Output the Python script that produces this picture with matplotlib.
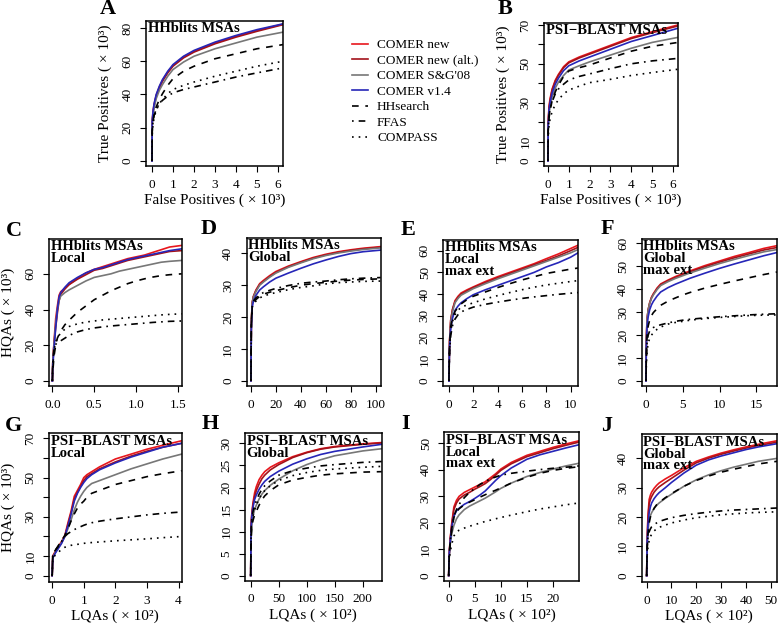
import matplotlib
matplotlib.use("Agg")
import matplotlib.pyplot as plt
from matplotlib.lines import Line2D

plt.rcParams['font.family'] = ['Liberation Serif', 'DejaVu Serif']

names = ['COMER new', 'COMER new (alt.)', "COMER S&G'08", 'COMER v1.4', 'HHsearch', 'FFAS', 'COMPASS']

# A: HHblits, TP vs FP (x10^3)
a_x = [0, 0.01, 0.05, 0.1, 0.2, 0.35, 0.5, 0.75, 1, 1.5, 2, 3, 4, 5, 6.24]
a_new = [0, 24, 30, 34, 39.5, 44.5, 48.5, 53.5, 57.5, 62.5, 66, 71, 75, 78.5, 82.3]
a_alt = [0, 23, 29, 33, 39, 44, 48, 53, 57, 62, 65.5, 70.5, 74.5, 78, 82]
a_sg = [0, 22, 28, 32, 37.5, 42.5, 46, 51, 55, 59.5, 63, 67.5, 71, 74.5, 77.5]
a_v14 = [0, 24, 30, 34.5, 40, 45, 49, 54, 58, 63, 66.5, 71.5, 75.5, 79, 82.5]
a_hhs = [0, 18, 24, 28, 32.5, 37, 40.5, 45.5, 49.5, 54, 57, 61.5, 64.5, 67.5, 70]
a_ffas = [0, 18, 24, 27.5, 31, 34.5, 36.5, 39, 41, 43, 44.5, 47.5, 50.5, 53, 56]
a_compass = [0, 16, 22, 26, 30.5, 34.5, 37, 40.5, 43, 45.5, 47.5, 51, 54, 57, 60]

# B: PSI-BLAST, TP vs FP
b_x = [0, 0.01, 0.05, 0.1, 0.2, 0.35, 0.5, 0.75, 1, 1.5, 2, 3, 4, 5, 6.24]
b_new = [0, 20, 28, 32, 37, 41.5, 44.5, 48.5, 51, 53.5, 55.5, 59.5, 63.5, 66.5, 70]
b_alt = [0, 19, 27, 31, 36.5, 41, 44, 48, 50.5, 53, 55, 59, 63, 66, 69.5]
b_sg = [0, 17, 24, 28, 33, 37.5, 40.5, 44, 46.8, 49, 51, 54.5, 58, 61, 63.6]
b_v14 = [0, 18, 26, 30, 35, 39.5, 42.5, 46.5, 49, 51.5, 53.5, 57.5, 61.5, 64.5, 68.3]
b_hhs = [0, 15, 22, 26, 31, 35.5, 39, 43.5, 46.3, 48, 49.4, 53, 56.5, 59, 61]
b_ffas = [0, 16, 23, 26.5, 30.5, 34.5, 37, 39.5, 41.7, 43.5, 44.8, 47.5, 50, 51.5, 52.8]
b_compass = [0, 12, 18, 21.5, 25.5, 29, 31.5, 34.5, 36.5, 38.5, 40.3, 42, 44, 45.5, 47.2]

# C: HHblits local, HQAs vs LQAs
c_x = [0, 0.005, 0.02, 0.04, 0.06, 0.08, 0.1, 0.15, 0.2, 0.3, 0.4, 0.5, 0.6, 0.7, 0.8, 0.9, 1.0, 1.1, 1.2, 1.3, 1.4, 1.545]
c_new = [0, 10, 22, 35, 42, 48, 50, 52, 54, 57.5, 60.5, 62.5, 64, 65.5, 67, 68.5, 69.5, 70.5, 72, 73.5, 75, 75.9]
c_alt = [0, 10, 21, 30, 38, 45, 48.5, 51.5, 54, 57, 59.5, 62, 63, 64.5, 66, 67.5, 68.5, 69.5, 70.5, 71.5, 72.5, 73]
c_sg = [0, 10, 21, 32, 40, 45, 47.5, 49.5, 51, 53.5, 56, 58, 59, 60, 61.5, 62.5, 63.5, 64.5, 65.5, 66.5, 67, 67.5]
c_v14 = [0, 8, 18, 30, 40, 47, 49.5, 52.5, 55, 58, 60.5, 62.5, 63.5, 65, 66.5, 68, 69, 70, 71, 72, 73, 74]
c_hhs = [0, 5, 14, 20, 24, 26, 28, 31.5, 34, 38.5, 42, 45.5, 48, 50.5, 52.5, 54.5, 56, 57.2, 58.2, 59, 59.5, 60]
c_ffas = [0, 10, 18, 20.5, 21.5, 22, 22.5, 24, 25.5, 27.5, 28.8, 29.7, 30.3, 30.8, 31.2, 31.6, 32, 32.4, 32.8, 33.1, 33.4, 33.6]
c_compass = [0, 8, 17, 22, 24, 25.5, 27, 29, 30.5, 32, 33, 33.6, 34.2, 34.6, 35, 35.4, 35.8, 36.2, 36.6, 37, 37.3, 37.6]

# D: HHblits global
d_x = [0, 0.3, 1, 2, 4, 7, 10, 15, 20, 30, 40, 50, 60, 70, 80, 90, 104]
d_new = [0, 18, 24.5, 26.5, 28.5, 30.5, 31.5, 33, 34.3, 36, 37.4, 38.7, 39.7, 40.5, 41.1, 41.6, 42.1]
d_alt = [0, 18, 24.5, 26.5, 28.3, 30.2, 31.2, 32.7, 34, 35.8, 37.2, 38.5, 39.5, 40.3, 40.9, 41.4, 41.9]
d_sg = [0, 18, 24.3, 26.3, 28, 30, 31, 32.5, 33.8, 35.6, 37, 38.3, 39.3, 40.1, 40.7, 41.2, 41.7]
d_v14 = [0, 16, 23, 25, 26.8, 28.5, 29.5, 31, 32.2, 33.8, 35.3, 36.7, 37.9, 39, 39.9, 40.5, 41]
d_hhs = [0, 17, 23, 24.5, 25.5, 26.5, 27.2, 27.8, 28.3, 29.2, 30, 30.5, 30.9, 31.3, 31.6, 31.8, 32]
d_ffas = [0, 18, 23.5, 25, 26, 27, 27.7, 28.4, 29, 29.9, 30.6, 31, 31.3, 31.7, 32, 32.2, 32.4]
d_compass = [0, 17, 23, 24.3, 25, 26, 26.6, 27.2, 27.7, 28.6, 29.3, 29.8, 30.4, 30.8, 31, 31.2, 31.3]

# E: HHblits local max ext
e_x = [0, 0.05, 0.15, 0.3, 0.5, 0.75, 1, 1.5, 2, 3, 4, 5, 6, 7, 8, 9, 10, 10.6]
e_new = [0, 18, 28, 33, 37, 39, 40.5, 42, 43.3, 45.8, 48, 50, 52, 54, 56.3, 58.5, 61, 62.5]
e_alt = [0, 18, 28, 33, 36.5, 38.5, 40, 41.5, 43, 45.3, 47.5, 49.5, 51.5, 53.5, 55.5, 57.6, 60, 61.5]
e_sg = [0, 17, 27, 32, 36, 38, 39.5, 41, 42.5, 44.8, 47, 49, 51, 53, 55, 57, 59, 60.5]
e_v14 = [0, 15, 24, 29, 32.5, 34.5, 36, 38, 39.7, 42, 44, 46, 48, 50, 52.5, 54.5, 57, 59]
e_hhs = [0, 15, 25, 29, 32, 34, 35.5, 37.5, 39, 41, 43, 44.8, 46.5, 48, 49.5, 50.5, 51.5, 52]
e_ffas = [0, 13, 21, 25.5, 28.5, 30.5, 31.8, 33, 34, 35.3, 36.3, 37.2, 38, 38.7, 39.3, 39.9, 40.4, 40.7]
e_compass = [0, 14, 23, 27.5, 30.5, 32.5, 34, 35, 36, 37.8, 39.3, 40.7, 42, 43.2, 44.2, 45, 45.8, 46.2]

# F: HHblits global max ext
f_x = [0, 0.05, 0.15, 0.3, 0.5, 0.75, 1, 1.5, 2, 3, 4, 5, 6, 8, 10, 12, 14, 16, 17.8]
f_new = [0, 18, 27, 31, 34, 36.5, 38, 40.5, 42.3, 44, 45.5, 46.8, 48, 50.3, 52.3, 54.3, 56, 57.8, 59]
f_alt = [0, 18, 27, 31, 34, 36.3, 37.8, 40.2, 42, 43.7, 45.1, 46.4, 47.6, 49.8, 51.8, 53.7, 55.4, 57.1, 58.2]
f_sg = [0, 18, 27, 31, 33.8, 36, 37.5, 39.8, 41.6, 43.3, 44.7, 45.9, 47.1, 49.2, 51.2, 53, 54.7, 56.3, 57.3]
f_v14 = [0, 15, 24, 28, 31, 33.2, 34.7, 37, 38.8, 40.7, 42.2, 43.5, 44.8, 47, 49.1, 51, 52.8, 54.6, 56]
f_hhs = [0, 12, 20, 24, 26.5, 28.5, 29.8, 31.5, 33, 34.8, 36.2, 37.5, 38.6, 40.5, 42.1, 43.6, 45, 46.4, 47.5]
f_ffas = [0, 10, 17, 20, 21.8, 22.8, 23.3, 24, 24.5, 25.3, 26, 26.5, 26.9, 27.5, 28, 28.4, 28.8, 29.1, 29.3]
f_compass = [0, 7, 13, 16.5, 18.5, 20, 21, 22.5, 23.5, 24.8, 25.5, 26, 26.5, 27.2, 27.7, 28.1, 28.5, 28.7, 28.8]

# G: PSI-BLAST local
g_x = [0, 0.02, 0.1, 0.2, 0.3, 0.4, 0.5, 0.6, 0.7, 0.8, 0.9, 1.0, 1.1, 1.25, 1.5, 2, 2.5, 3, 3.5, 4.1]
g_new = [0, 10, 12.5, 15, 17.5, 20.5, 27, 33, 40.5, 43.5, 46.5, 50, 51.5, 53, 55.5, 59.5, 62, 64.5, 66.5, 68.8]
g_alt = [0, 10, 12, 14.5, 17, 20, 26, 32, 39, 42.5, 45.5, 48.5, 50.5, 52, 54.5, 58, 61, 63.5, 65.5, 67.5]
g_sg = [0, 9, 12, 14.5, 17, 20, 24, 28.5, 33.5, 37.5, 40.5, 43, 45, 47, 48.5, 51.5, 54.5, 57, 59.5, 62]
g_v14 = [0, 9, 11.5, 14, 16.5, 20, 25.5, 31.5, 38, 42, 45, 47.5, 49.5, 51.5, 54, 57.5, 60.5, 63, 65.5, 67.5]
g_hhs = [0, 10, 13, 15.5, 18, 20.5, 24, 28, 31.5, 34.5, 36.5, 38, 40, 42, 43.5, 46.5, 48.5, 50.5, 52, 53.5]
g_ffas = [0, 11, 13, 15, 17.5, 20, 21.5, 22.5, 23.5, 24.3, 25, 25.7, 26.3, 27, 27.8, 29, 30, 31, 31.8, 32.5]
g_compass = [0, 9, 10.5, 12, 13.5, 14.5, 15, 15.5, 15.8, 16, 16.2, 16.5, 16.7, 16.9, 17.2, 17.8, 18.3, 18.8, 19.4, 20]

# H: PSI-BLAST global
h_x = [0, 0.5, 1, 2, 4, 7, 10, 15, 20, 25, 35, 50, 75, 100, 125, 150, 200, 234]
h_new = [0, 9, 12, 14, 16.5, 18.8, 20.2, 21.8, 22.8, 23.6, 24.6, 25.6, 27, 28, 28.8, 29.3, 29.9, 30.2]
h_alt = [0, 9, 12, 14, 16, 18, 19.3, 20.8, 22, 22.8, 24, 25.2, 26.8, 27.9, 28.7, 29.2, 29.8, 30.1]
h_sg = [0, 7, 9.5, 11.5, 13.5, 15, 16, 17.4, 18.5, 19.3, 20.5, 21.9, 23.8, 25.2, 26.3, 27.2, 28.3, 28.8]
h_v14 = [0, 9, 11.5, 13.5, 15.5, 17.3, 18.3, 19.6, 20.6, 21.4, 22.5, 23.7, 25.3, 26.5, 27.5, 28.2, 29.2, 29.8]
h_hhs = [0, 6, 9, 11, 12.5, 13.8, 14.6, 16, 17.2, 18.1, 19.3, 20.6, 21.7, 22.3, 22.8, 23.1, 23.5, 23.6]
h_ffas = [0, 8, 11, 13, 14.5, 16, 17, 18.5, 19.6, 20.4, 21.5, 22.8, 23.8, 24.4, 24.9, 25.2, 25.7, 25.9]
h_compass = [0, 7, 10, 12, 13.5, 15, 16, 17.5, 18.5, 19.3, 20.4, 21.6, 22.7, 23.4, 23.9, 24.2, 24.6, 24.8]

# I: PSI-BLAST local max ext
i_x = [0, 0.1, 0.3, 0.6, 1, 1.5, 2, 3, 4, 5, 6, 7, 8, 9, 10, 12, 15, 17.5, 20, 22.5, 25]
i_new = [0, 8, 14, 20, 26, 28.5, 30, 31.5, 32.5, 33.5, 34.5, 35.5, 37, 38.5, 40.3, 42.8, 45.5, 47, 48.5, 49.8, 51]
i_alt = [0, 8, 14, 19.5, 25, 27.5, 29, 30.5, 31.5, 32.7, 33.7, 34.8, 36.3, 38, 39.8, 42.3, 45, 46.5, 48, 49.3, 50.5]
i_sg = [0, 7, 12, 16, 19, 21.5, 23, 25, 26.3, 27.3, 28.3, 29.3, 30.5, 31.7, 33, 35, 37.5, 39, 40.3, 41.5, 42.5]
i_v14 = [0, 8, 13, 18.5, 22.5, 24.5, 25.5, 27, 28, 29.2, 30.5, 32, 34, 36, 37.8, 40.7, 44, 45.7, 47, 48.3, 49.5]
i_hhs = [0, 7, 12.5, 17.5, 22, 24, 25.3, 26.8, 27.8, 28.7, 29.7, 30.6, 31.5, 32.3, 33.2, 35, 37.2, 38.7, 39.8, 40.6, 41.2]
i_ffas = [0, 8, 13, 18, 22.5, 25, 27, 29.5, 31.5, 33, 34.5, 35.6, 36.6, 37.3, 38, 38.7, 39.5, 40.1, 40.6, 41, 41.5]
i_compass = [0, 6, 9, 12, 15, 16.5, 17.2, 18, 18.7, 19.3, 19.9, 20.5, 21, 21.5, 22, 22.9, 24.2, 25.2, 26, 26.8, 27.5]

# J: PSI-BLAST global max ext
j_x = [0, 0.2, 0.5, 1, 1.5, 2, 3, 4, 5, 7.5, 10, 15, 20, 25, 30, 35, 40, 45, 52.5]
j_new = [0, 12, 20, 26, 27.5, 28.5, 29.8, 30.8, 31.6, 33, 34.2, 36.8, 39, 40.5, 41.8, 42.9, 43.9, 44.8, 46]
j_alt = [0, 12, 19, 24.5, 26, 27, 28.5, 29.5, 30.3, 31.8, 33.2, 36, 38.5, 40.1, 41.4, 42.5, 43.5, 44.4, 45.5]
j_sg = [0, 10, 15, 19, 20.5, 21.5, 23, 24, 24.8, 26.4, 27.8, 30.5, 32.7, 34.4, 35.8, 37, 38, 39, 40]
j_v14 = [0, 11, 17, 21.5, 23.5, 24.8, 26.3, 27.4, 28.3, 30, 31.8, 35, 37.7, 39.5, 40.8, 41.9, 43, 43.9, 45]
j_hhs = [0, 9, 14, 18, 20, 21.3, 23, 24.2, 25, 26.6, 28, 30.5, 32.5, 34, 35.3, 36.3, 37.2, 38.1, 39]
j_ffas = [0, 10, 13, 15, 16, 16.7, 17.5, 18, 18.5, 19.2, 19.8, 20.6, 21.2, 21.7, 22.1, 22.4, 22.6, 22.8, 23.1]
j_compass = [0, 7, 9.5, 12, 13.3, 14.2, 15.3, 16, 16.5, 17.3, 18, 19, 19.8, 20.3, 20.8, 21.1, 21.4, 21.6, 21.8]

colors = ['#e8161c', '#a3121a', '#777777', '#2626b8', 'black', 'black', 'black']
styles = ['-', '-', '-', '-', (0, (4, 4)), (0, (1, 3, 4, 3)), (0, (1, 3))]

W, H = 778, 627
fig = plt.figure(figsize=(W / 100, H / 100), dpi=100)


def box(l, r, t, b):
    return [l / W, 1 - b / H, (r - l) / W, (b - t) / H]


def panel(rect, x, ys, xlim, ylim, xt, xtl, yt, ytl, txt, letter, lpos, xlab=None, ylab=None):
    ax = fig.add_axes(box(*rect))
    for y, c, ls in zip(ys, colors, styles):
        ax.plot(x, y, color=c, linestyle=ls, lw=1.2)
    ax.set_xlim(xlim)
    ax.set_ylim(ylim)
    ax.set_xticks(xt)
    ax.set_xticklabels(xtl)
    ax.set_yticks(yt)
    ax.set_yticklabels(ytl, rotation=90, va='center')
    ax.tick_params(direction='out', length=4.5, width=0.8, labelsize=9.5, pad=4.5)
    for s in ax.spines.values():
        s.set_linewidth(1.1)
    ax.text(0.012, 0.99, txt, transform=ax.transAxes, ha='left', va='top',
            fontsize=10.5, fontweight='bold', linespacing=0.88)
    if xlab:
        ax.set_xlabel(xlab, fontsize=11, labelpad=2)
    if ylab:
        ax.set_ylabel(ylab, fontsize=11, labelpad=7)
    fig.text(lpos[0] / W, 1 - lpos[1] / H, letter, fontsize=16, fontweight='bold',
             ha='center', va='center')
    return ax


def ints(v):
    return [str(t) for t in v]


fp_lab = 'False Positives ( \u00d7 10\u00b3)'
tp_lab = 'True Positives ( \u00d7 10\u00b3)'
hq_lab = 'HQAs ( \u00d7 10\u00b3)'
lq_lab = 'LQAs ( \u00d7 10\u00b2)'
psi = 'PSI\u2212BLAST MSAs'

r6 = list(range(0, 7))
panel((146, 283, 21, 166), a_x, [a_new, a_alt, a_sg, a_v14, a_hhs, a_ffas, a_compass],
      (-0.286, 6.24), (-3.0, 84.2), r6, ints(r6), [0, 20, 40, 60, 80], ints([0, 20, 40, 60, 80]),
      'HHblits MSAs', 'A', (108, 9), fp_lab, tp_lab)
panel((544, 678, 23, 166), b_x, [b_new, b_alt, b_sg, b_v14, b_hhs, b_ffas, b_compass],
      (-0.19, 6.24), (-2.6, 71.0), r6, ints(r6), list(range(0, 80, 10)),
      ['0', '10', '', '30', '', '50', '', '70'], psi, 'B', (505, 9), fp_lab, tp_lab)

panel((49, 181.7, 239, 386), c_x, [c_new, c_alt, c_sg, c_v14, c_hhs, c_ffas, c_compass],
      (-0.04, 1.545), (-2.8, 79.5), [0, 0.5, 1, 1.5], ['0.0', '0.5', '1.0', '1.5'],
      [0, 20, 40, 60], ints([0, 20, 40, 60]), 'HHblits MSAs\nLocal', 'C', (14, 231), None, hq_lab)
panel((246.7, 380.7, 238, 386), d_x, [d_new, d_alt, d_sg, d_v14, d_hhs, d_ffas, d_compass],
      (-3.4, 104), (-1.6, 44.8), list(range(0, 101, 20)), ints(range(0, 101, 20)),
      list(range(0, 41, 10)), ints(range(0, 41, 10)), 'HHblits MSAs\nGlobal', 'D', (209, 229))
panel((443.3, 578, 240, 386), e_x, [e_new, e_alt, e_sg, e_v14, e_hhs, e_ffas, e_compass],
      (-0.46, 10.6), (-2.3, 64.9), list(range(0, 11, 2)), ints(range(0, 11, 2)),
      list(range(0, 61, 10)), ints(range(0, 61, 10)), 'HHblits MSAs\nLocal\nmax ext', 'E', (408, 230))
panel((641.7, 777, 239, 386), f_x, [f_new, f_alt, f_sg, f_v14, f_hhs, f_ffas, f_compass],
      (-0.58, 17.8), (-2.2, 61.9), [0, 5, 10, 15], ints([0, 5, 10, 15]),
      list(range(0, 61, 10)), ints(range(0, 61, 10)), 'HHblits MSAs\nGlobal\nmax ext', 'F', (607, 229))

panel((49, 181.7, 433.3, 582), g_x, [g_new, g_alt, g_sg, g_v14, g_hhs, g_ffas, g_compass],
      (-0.1, 4.1), (-3.2, 72.6), list(range(0, 5)), ints(range(0, 5)), list(range(0, 71, 10)),
      ['0', '10', '', '30', '', '50', '', '70'], psi + '\nLocal', 'G', (14, 426), lq_lab, hq_lab)
panel((245, 381.7, 433.3, 581), h_x, [h_new, h_alt, h_sg, h_v14, h_hhs, h_ffas, h_compass],
      (-10.2, 234), (-1.2, 32.3), list(range(0, 201, 50)), ints(range(0, 201, 50)),
      list(range(0, 31, 5)), ints(range(0, 31, 5)), psi + '\nGlobal', 'H', (210, 424), lq_lab)
panel((444.3, 579, 432.3, 581), i_x, [i_new, i_alt, i_sg, i_v14, i_hhs, i_ffas, i_compass],
      (-0.84, 25), (-2.0, 54.2), list(range(0, 21, 5)), ints(range(0, 21, 5)),
      list(range(0, 51, 10)), ints(range(0, 51, 10)), psi + '\nLocal\nmax ext', 'I', (406, 424), lq_lab)
panel((641.7, 777, 434.3, 582), j_x, [j_new, j_alt, j_sg, j_v14, j_hhs, j_ffas, j_compass],
      (-2.0, 52.5), (-2.1, 48.2), list(range(0, 51, 10)), ints(range(0, 51, 10)),
      list(range(0, 41, 10)), ints(range(0, 41, 10)), psi + '\nGlobal\nmax ext', 'J', (607, 426), lq_lab)

handles = [Line2D([], [], color=c, linestyle=ls, lw=1.2) for c, ls in zip(colors, styles)]
fig.legend(handles, names, loc='upper left', bbox_to_anchor=(352 / W, 1 - 39 / H),
           frameon=False, fontsize=9.5, handlelength=1.2, handletextpad=0.7,
           labelspacing=0.25, borderpad=0, borderaxespad=0)

fig.savefig('out.png', dpi=100)
